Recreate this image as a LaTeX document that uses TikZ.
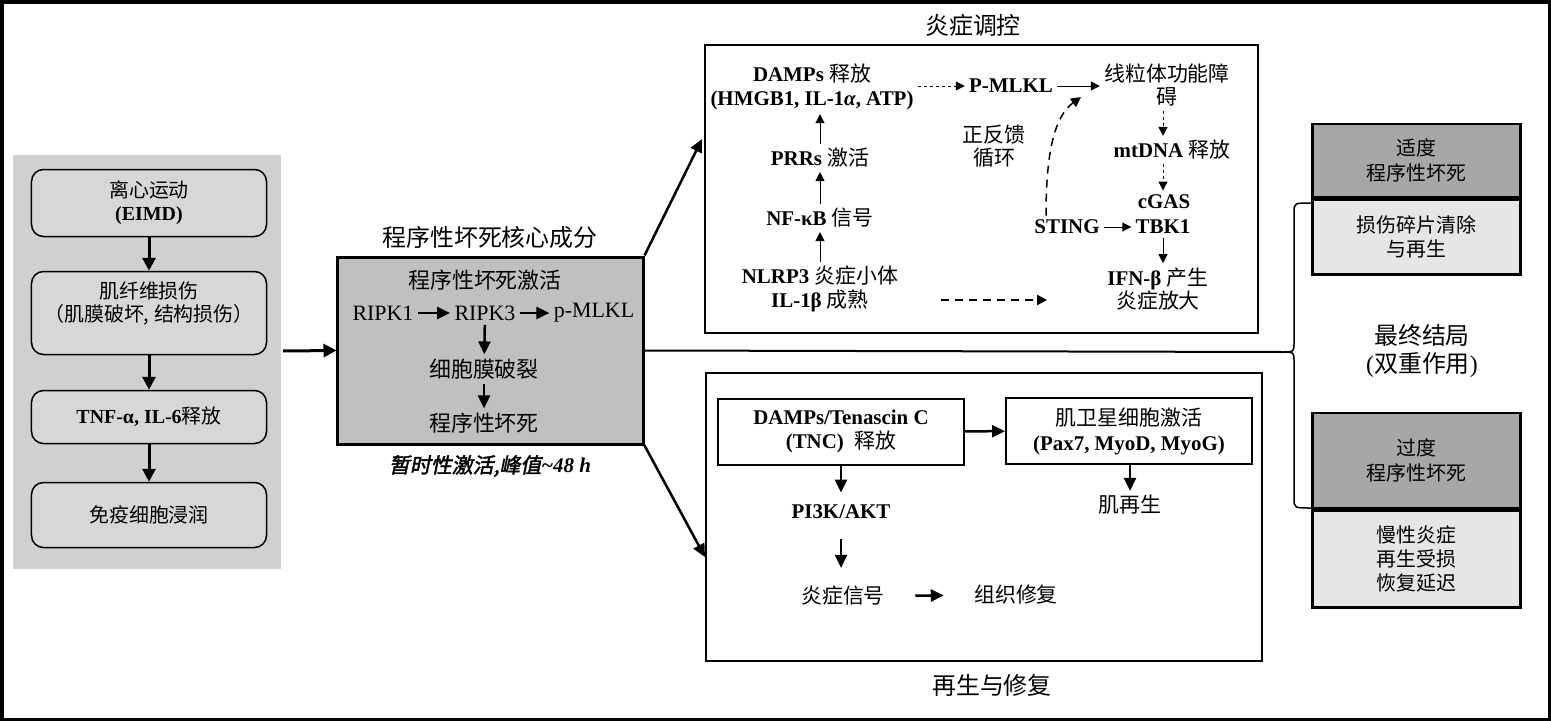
\documentclass[tikz,border=0pt]{standalone}
\usepackage{fontspec}
\setmainfont{Liberation Serif}
\newfontfamily\cjk[AutoFakeSlant=0.2,AutoFakeBold=2]{Noto Sans CJK SC}
\newcommand{\zh}[1]{{\cjk\mdseries #1}}
\usetikzlibrary{arrows.meta,positioning}
\definecolor{panelgray}{HTML}{D0D0D0}
\definecolor{boxgray}{HTML}{D7D7D7}
\definecolor{coregray}{HTML}{C0C0C0}
\definecolor{darkgray}{HTML}{A8A6A6}
\definecolor{lightgray}{HTML}{E6E6E6}
\tikzset{
  txt/.style={inner sep=2bp, align=center, font=\fontsize{10.5}{11.8}\selectfont},
  coretxt/.style={inner sep=2bp, align=center, font=\fontsize{11}{13}\selectfont},
  titletxt/.style={inner sep=2bp, align=center, font=\fontsize{12}{14}\selectfont},
  flowbox/.style={draw, rounded corners=6bp, fill=boxgray, line width=0.75bp,
    minimum width=117.5bp, inner sep=2bp, align=center, font=\fontsize{10}{11.5}\selectfont},
  outcomebox/.style={draw, line width=1.25bp, minimum width=104bp, inner sep=2bp,
    align=center, font=\fontsize{10}{12.25}\selectfont},
  subbox/.style={draw, line width=1bp, minimum width=123bp, minimum height=33bp,
    inner sep=2bp, align=center, font=\fontsize{10.5}{12.5}\selectfont},
  fatarr/.style={line width=1.5bp, -{Triangle[length=6.5bp,width=6.5bp]}},
  midarr/.style={line width=1.25bp, -{Triangle[length=6.5bp,width=6bp]}},
  thinarr/.style={line width=0.5bp, -{Triangle[length=4.5bp,width=4.5bp]}},
  thindash/.style={thinarr, dash pattern=on 1.5bp off 1.5bp},
  longdash/.style={line width=0.75bp, dash pattern=on 4bp off 3bp, -{Triangle[length=5bp,width=5bp]}}
}
\begin{document}
\begin{tikzpicture}[x=0.5bp,y=-0.5bp]
\useasboundingbox (0,0) rectangle (1551,721);
\draw[line width=1.5bp] (2,2) rectangle (1549,719);

% left column
\fill[panelgray] (13,155) rectangle (281,569);
\node[flowbox,minimum height=33.5bp] (eimd) at (149,203) {\zh{离心运动}\\\textbf{(EIMD)}};
\node[flowbox,minimum height=41.5bp] (fibre) at (149,313) {\zh{肌纤维损伤}\\\zh{（肌膜破坏, 结构损伤）}\\\mbox{}};
\node[flowbox,minimum height=26.5bp] (tnf) at (149,417) {\textbf{TNF-α, IL-6}\zh{释放}};
\node[flowbox,minimum height=32.5bp] (immune) at (149,515) {\zh{免疫细胞浸润}};
\draw[fatarr] (eimd) -- (fibre);
\draw[fatarr] (fibre) -- (tnf);
\draw[fatarr] (tnf) -- (immune);
\coordinate (panelout) at (283,351);

% core
\node[draw, line width=1.5bp, fill=coregray, minimum width=152.5bp, minimum height=93.5bp] (core) at (490.5,350.5) {};
\node[titletxt] (coretitle) at (490,237) {\zh{程序性坏死核心成分}};
\node[coretxt] (act) at (485,280) {\zh{程序性坏死激活}};
\node[coretxt] (ripk1) at (383,313) {RIPK1};
\node[coretxt] (ripk3) at (485,313) {RIPK3};
\node[coretxt] (pmlklc) at (594,313) {p-MLKL};
\node[coretxt] (rupture) at (484,369) {\zh{细胞膜破裂}};
\node[coretxt] (necro) at (484,423) {\zh{程序性坏死}};
\node[txt] (corecap) at (490,466) {{\cjk\bfseries\itshape 暂时性激活,峰值}\textbf{\textit{\textasciitilde48 h}}};
\draw[fatarr] (panelout) -- (core.west);
\draw[midarr] (ripk1) -- (ripk3);
\draw[midarr] (ripk3) -- (pmlklc);
\draw[midarr] (ripk3) -- (rupture);
\draw[midarr] (rupture) -- (necro);

% inflammation
\node[draw, line width=1bp, minimum width=276.5bp, minimum height=144bp] (inflbox) at (981.5,189) {};
\node[titletxt] (infltitle) at (973,25) {\zh{炎症调控}};
\node[txt] (damps) at (812,87) {\textbf{DAMPs} \zh{释放}\\\textbf{(HMGB1, IL-1\textit{α}, ATP)}};
\node[txt] (pmlkl) at (1011,86) {\textbf{P-MLKL}};
\node[txt] (mito) at (1167,85) {\zh{线粒体功能障}\\\zh{碍}};
\node[txt] (loop) at (994,146) {\zh{正反馈}\\\zh{循环}};
\node[txt] (prrs) at (820,158) {\textbf{PRRs} \zh{激活}};
\node[txt] (nfkb) at (820,218) {\textbf{NF-κB} \zh{信号}};
\node[txt] (nlrp) at (820,289) {\textbf{NLRP3} \zh{炎症小体}\\\textbf{IL-1β} \zh{成熟}};
\node[txt] (mtdna) at (1172,150) {\textbf{mtDNA} \zh{释放}};
\node[txt] (cgas) at (1164,202) {\textbf{cGAS}};
\node[txt] (tbk) at (1163,227) {\textbf{TBK1}};
\node[txt] (sting) at (1067,227) {\textbf{STING}};
\node[txt] (ifn) at (1158,289) {\textbf{IFN-β} \zh{产生}\\\zh{炎症放大}};
\coordinate (fbend) at (1081,97);
\draw[thindash] (damps.east |- pmlkl.west) -- (pmlkl.west);
\draw[thinarr] (pmlkl) -- (pmlkl -| mito.west);
\draw[thinarr] (prrs.north) -- (prrs.north |- damps.south);
\draw[thinarr] (nfkb.north) -- (prrs.south);
\draw[thinarr] (nlrp.north) -- (nfkb.south);
\draw[longdash, line width=1bp, shorten <=19bp, shorten >=28bp] ([yshift=-5.5bp]nlrp.east) -- ([yshift=-5.5bp]nlrp.east -| ifn.west);
\draw[thindash] (mito.south -| tbk) -- (mtdna.north -| tbk);
\draw[thindash] (mtdna.south -| tbk) -- (cgas.north -| tbk);
\draw[thinarr] (sting) -- (tbk);
\draw[thinarr] (tbk.south) -- (tbk.south |- ifn.north);
\draw[longdash] ([xshift=-10.5bp]sting.north) .. controls (1046,150) and (1055,116) .. (fbend);

% regeneration
\node[draw, line width=1bp, minimum width=278bp, minimum height=144bp] (repbox) at (984,517) {};
\node[titletxt] (reptitle) at (992,685) {\zh{再生与修复}};
\node[subbox] (tnc) at (841,431.5) {\textbf{DAMPs/Tenascin C}\\\textbf{(TNC)}~~\zh{释放}};
\node[subbox] (satel) at (1129,431) {\zh{肌卫星细胞激活}\\\textbf{(Pax7, MyoD, MyoG)}};
\node[txt] (pik) at (841,512) {\textbf{PI3K/AKT}};
\node[txt] (regen) at (1130,505) {\zh{肌再生}};
\node[txt] (inflsig) at (843,596) {\zh{炎症信号}};
\node[txt] (repair) at (1016,595) {\zh{组织修复}};
\draw[midarr] (tnc) -- (satel);
\draw[midarr, shorten >=4bp] (tnc.south -| pik) -- (pik);
\draw[midarr] (satel.south -| regen) -- (regen);
\draw[midarr, shorten <=8bp, shorten >=7bp] (pik) -- (pik |- inflsig.north);
\draw[midarr, shorten <=13bp, shorten >=13bp] (inflsig) -- (repair);

% core to branches
\coordinate (inflin) at (702,139);
\coordinate (repin) at (705,557);
\draw[midarr] (core.north east) -- (inflin);
\draw[midarr] (core.south east) -- (repin);

% outcome column
\node[outcomebox, fill=darkgray, minimum height=36.5bp] (moderate) at (1416.5,160.5) {\zh{适度}\\\zh{程序性坏死}};
\node[outcomebox, fill=lightgray, minimum height=37.5bp, anchor=north] (clearance) at (moderate.south) {\zh{损伤碎片清除}\\\zh{与再生}};
\node[outcomebox, fill=darkgray, minimum height=47.5bp] (excess) at (1416.5,460.5) {\zh{过度}\\\zh{程序性坏死}};
\node[outcomebox, fill=lightgray, minimum height=48.5bp, anchor=north] (chronic) at (excess.south) {\zh{慢性炎症}\\\zh{再生受损}\\\zh{恢复延迟}};
\node[titletxt] (outcome) at (1422,351) {\zh{最终结局}\\(\zh{双重作用})};
\coordinate (bracetip) at (1283,352);
\draw[line width=1bp] (core.east) -- (bracetip);
\draw[line width=0.75bp] (1311,203) .. controls (1294,203) .. (1294,213) -- (1294,342)
  .. controls (1294,352) .. (bracetip) .. controls (1294,352) .. (1294,362)
  -- (1294,498) .. controls (1294,508) .. (1311,508);
\end{tikzpicture}
\end{document}
